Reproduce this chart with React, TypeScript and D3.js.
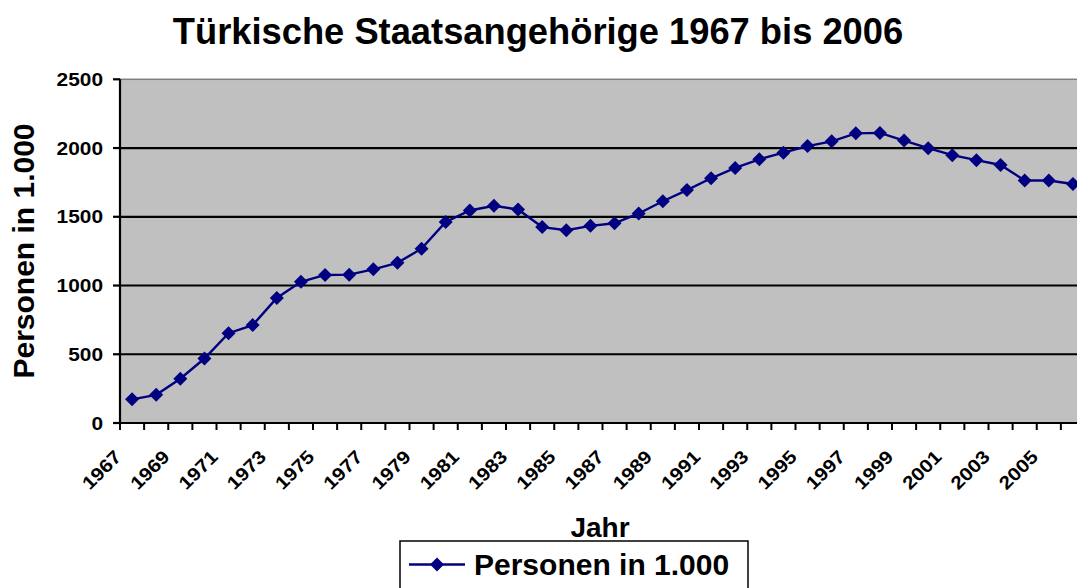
import React from 'react';
import * as d3 from 'd3';

const years: string[] = d3.range(1967, 2007).map(String);

// Personen in 1.000
const persons: number[] = [
  172, 205, 322, 469, 653, 712, 910, 1027, 1077, 1079,
  1118, 1165, 1268, 1462, 1546, 1580, 1553, 1425, 1402, 1434,
  1453, 1524, 1613, 1694, 1780, 1855, 1918, 1966, 2014, 2049,
  2107, 2110, 2054, 1999, 1948, 1912, 1877, 1764, 1764, 1738,
];

const yTicks: number[] = [0, 500, 1000, 1500, 2000, 2500];
const xLabels: string[] = years.filter((_y, i) => i % 2 === 0);

const TITLE = 'Türkische Staatsangehörige 1967 bis 2006';
const Y_TITLE = 'Personen in 1.000';
const X_TITLE = 'Jahr';
const SERIES = 'Personen in 1.000';

const FONT = '"Liberation Sans", Arial, Helvetica, sans-serif';
const NAVY = '#000080';

const App: React.FC = () => {
  const width = 1077;
  const height = 588;
  const plot = { left: 120, right: 1085, top: 79.3, bottom: 423 };

  const x = d3.scaleBand<string>().domain(years).range([plot.left, plot.right]).paddingInner(0).paddingOuter(0);
  const y = d3.scaleLinear().domain([0, 2500]).range([plot.bottom, plot.top]);
  const cx = (yr: string) => (x(yr) ?? 0) + x.bandwidth() / 2;

  const line = d3
    .line<number>()
    .x((_d, i) => cx(years[i]))
    .y((d) => y(d));

  const diamond = d3.symbol().type(d3.symbolSquare).size(98)() ?? '';

  const boundaries = d3.range(years.length + 1).map((i) => plot.left + i * x.bandwidth());

  return (
    <div style={{ position: 'absolute', left: 0, top: 0 }}>
      <svg width={width} height={height} style={{ display: 'block', fontFamily: FONT, fontWeight: 'bold' }}>
        <rect x={0} y={0} width={width} height={height} fill="#fff" />

        <text x={538} y={43.5} textAnchor="middle" fontSize={36.3}>
          {TITLE}
        </text>

        {/* plot area */}
        <rect
          x={plot.left}
          y={plot.top}
          width={plot.right - plot.left}
          height={plot.bottom - plot.top}
          fill="#c0c0c0"
          stroke="#808080"
          strokeWidth={1.5}
        />

        {yTicks
          .filter((t) => t > 0 && t < 2500)
          .map((t) => (
            <line key={`g${t}`} x1={plot.left} x2={plot.right} y1={y(t)} y2={y(t)} stroke="#000" strokeWidth={2.2} />
          ))}

        {/* axes */}
        <line x1={plot.left} x2={plot.left} y1={plot.top} y2={plot.bottom} stroke="#000" strokeWidth={2.2} />
        <line x1={plot.left - 1} x2={plot.right} y1={plot.bottom} y2={plot.bottom} stroke="#000" strokeWidth={2.2} />

        {yTicks.map((t) => (
          <g key={`yt${t}`}>
            <line x1={plot.left - 7} x2={plot.left} y1={y(t)} y2={y(t)} stroke="#000" strokeWidth={2.2} />
            <text
              transform={`translate(103,${y(t)}) scale(1.13,1)`}
              dy="0.36em"
              textAnchor="end"
              fontSize={18.5}
            >
              {t}
            </text>
          </g>
        ))}

        {boundaries.map((bx, i) => (
          <line key={`xt${i}`} x1={bx} x2={bx} y1={plot.bottom} y2={plot.bottom + 7} stroke="#000" strokeWidth={2} />
        ))}

        {xLabels.map((yr) => (
          <text
            key={`xl${yr}`}
            transform={`translate(${cx(yr) - 9.5},${458}) rotate(-45) scale(1.13,1)`}
            textAnchor="end"
            fontSize={18.5}
          >
            {yr}
          </text>
        ))}

        <text transform="translate(33.5,251) rotate(-90)" textAnchor="middle" fontSize={30}>
          {Y_TITLE}
        </text>

        <text x={600} y={537} textAnchor="middle" fontSize={28}>
          {X_TITLE}
        </text>

        {/* series */}
        <path d={line(persons) ?? ''} fill="none" stroke={NAVY} strokeWidth={2.4} />
        {persons.map((v, i) => (
          <path key={`m${i}`} d={diamond} transform={`translate(${cx(years[i])},${y(v)}) rotate(45)`} fill={NAVY} />
        ))}

        {/* legend */}
        <rect x={400} y={541} width={348} height={60} fill="#fff" stroke="#000" strokeWidth={1.5} />
        <line x1={409} x2={465} y1={564.5} y2={564.5} stroke={NAVY} strokeWidth={2.4} />
        <path d={diamond} transform="translate(437,564.5) rotate(45)" fill={NAVY} />
        <text x={474} y={575} fontSize={30}>
          {SERIES}
        </text>
      </svg>
    </div>
  );
};

export default App;
